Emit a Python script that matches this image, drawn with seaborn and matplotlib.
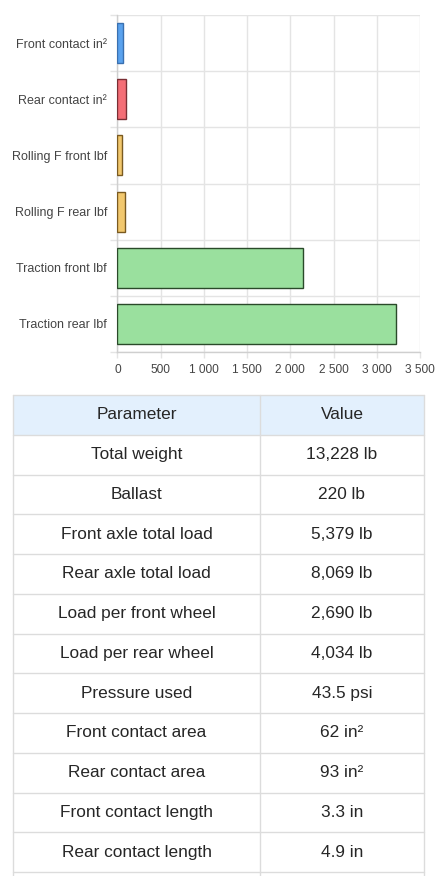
import matplotlib
matplotlib.use("Agg")
import matplotlib.pyplot as plt
import seaborn as sns
import pandas as pd
from matplotlib.patches import Rectangle
from matplotlib.ticker import FuncFormatter, FixedLocator

# ---- data ----
categories = ["Front contact in²", "Rear contact in²", "Rolling F front lbf",
              "Rolling F rear lbf", "Traction front lbf", "Traction rear lbf"]
values = [62, 93, 54, 81, 2152, 3227]
fill_colors = ["#5aa2ee", "#f46e76", "#f2c86e", "#f2c86e", "#9ae09e", "#9ae09e"]
edge_colors = ["#3a70b0", "#7a2e34", "#7a5a20", "#7a5a20", "#2a4a2a", "#2a4a2a"]
x_ticks = [0, 500, 1000, 1500, 2000, 2500, 3000, 3500]

table_header = ["Parameter", "Value"]
table_params = ["Total weight", "Ballast", "Front axle total load", "Rear axle total load",
                "Load per front wheel", "Load per rear wheel", "Pressure used",
                "Front contact area", "Rear contact area", "Front contact length",
                "Rear contact length"]
table_values = ["13,228 lb", "220 lb", "5,379 lb", "8,069 lb", "2,690 lb", "4,034 lb",
                "43.5 psi", "62 in²", "93 in²", "3.3 in", "4.9 in"]

sns.set_theme(style="white")
plt.rcParams["font.family"] = ["Liberation Sans", "DejaVu Sans"]

W, H = 441, 876
fig = plt.figure(figsize=(W / 100, H / 100), dpi=100)

# ---- bar chart ----
x0, x1, ytop, ybot = 117.5, 420, 15, 352
ax = fig.add_axes([x0 / W, 1 - ybot / H, (x1 - x0) / W, (ybot - ytop) / H])
df = pd.DataFrame({"cat": categories, "val": values})
sns.barplot(data=df, x="val", y="cat", hue="cat", palette=fill_colors, legend=False,
            orient="h", width=0.71, ax=ax, zorder=3, saturation=1)
for p, ec in zip(ax.patches, edge_colors):
    p.set_edgecolor(ec)
    p.set_linewidth(1.0)

ax.set_xlim(0, 3500)
ax.set_ylim(len(categories) - 0.5, -0.5)
ax.set_xlabel("")
ax.set_ylabel("")
ax.xaxis.set_major_locator(FixedLocator(x_ticks))
ax.xaxis.set_major_formatter(FuncFormatter(lambda v, _: f"{int(v):,}".replace(",", " ")))
ax.set_yticks(range(len(categories)))
ax.set_yticklabels(categories)
ax.set_yticks([i - 0.5 for i in range(len(categories) + 1)], minor=True)

grid_c = "#e4e4e4"
ax.grid(True, axis="x", which="major", color=grid_c, linewidth=1, zorder=0)
ax.grid(True, axis="y", which="minor", color=grid_c, linewidth=1, zorder=0)
ax.grid(False, axis="y", which="major")
ax.tick_params(axis="y", which="major", length=0, pad=7.5, labelsize=9, labelcolor="#444444")
ax.tick_params(axis="y", which="minor", length=5, width=1, color=grid_c, left=True)
ax.tick_params(axis="x", which="major", length=4, width=1, color=grid_c, pad=4.5,
               labelsize=8.6, labelcolor="#444444", bottom=True)
for s in ["top", "right"]:
    ax.spines[s].set_visible(False)
for s in ["left", "bottom"]:
    ax.spines[s].set_color("#cfcfcf")
    ax.spines[s].set_linewidth(1)

# ---- table ----
tax = fig.add_axes([0, 0, 1, 1])
tax.set_xlim(0, W)
tax.set_ylim(H, 0)
tax.axis("off")
tl, tr, tmid, ttop, rh = 13, 424, 260, 395, 39.75
border = "#dcdcdc"
rows = [table_header] + [[a, b] for a, b in zip(table_params, table_values)]
nrows = len(rows)
tax.add_patch(Rectangle((tl, ttop), tr - tl, rh, facecolor="#e3f0fd", edgecolor="none", zorder=1))
for i in range(nrows + 1):
    y = ttop + i * rh
    tax.plot([tl, tr], [y, y], color=border, lw=1, zorder=2)
for x in (tl, tmid, tr):
    tax.plot([x, x], [ttop, H + 5], color=border, lw=1, zorder=2)
for i, (a, b) in enumerate(rows):
    yc = ttop + (i + 0.5) * rh
    tax.text((tl + tmid) / 2, yc, a, ha="center", va="center", fontsize=12.4, color="#262626")
    tax.text((tmid + tr) / 2, yc, b, ha="center", va="center", fontsize=12.4, color="#262626")

fig.savefig("out.png", dpi=100, facecolor="white")
